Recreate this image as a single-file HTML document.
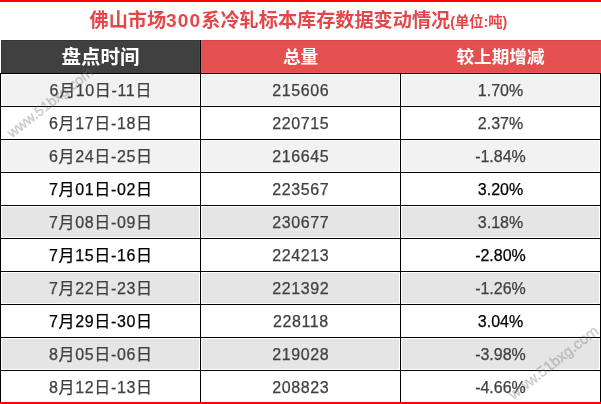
<!DOCTYPE html>
<html>
<head>
<meta charset="utf-8">
<style>
html,body{margin:0;padding:0;}
body{width:601px;height:404px;position:relative;overflow:hidden;background:#fff;
 font-family:"Liberation Sans","Noto Sans CJK SC",sans-serif;}
.a{position:absolute;}
.topline{left:0;top:0;width:601px;height:2px;background:#ff0000;}
.botline{left:0;top:402px;width:601px;height:2px;background:#ff0000;}
.title{left:89.5px;top:7px;height:28px;line-height:28px;
 font-size:19.15px;font-weight:bold;color:#e3474a;white-space:nowrap;}
.title .d{letter-spacing:1.1px;}
.title .u{font-size:14.3px;}
.h1{left:1px;top:40px;width:199px;height:33px;background:#404040;}
.h2{left:201px;top:40px;width:400px;height:33px;background:#e3504f;}
.hl{left:0;width:601px;height:1px;background:#000;}
.vl{width:1px;background:#000;}
.ht{color:#fff;font-weight:bold;text-align:center;line-height:33px;top:41px;height:33px;white-space:nowrap;}
.c{box-sizing:border-box;border:1px solid #fff;height:32px;}
.t{text-align:center;font-size:16px;line-height:32px;height:32px;color:#404040;white-space:nowrap;-webkit-text-stroke:0.25px currentColor;}
.k{color:#000;}
.c1{left:1px;width:199px;letter-spacing:0.65px;text-indent:0.65px;}
.c2{left:201px;width:199px;letter-spacing:0.6px;text-indent:0.6px;}
.c3{left:401px;width:199px;}
.wm{color:rgba(110,110,110,0.27);-webkit-text-stroke:0.5px rgba(110,110,110,0.27);font-size:14.3px;white-space:nowrap;transform-origin:0 0;}
</style>
</head>
<body>
<div class="a topline"></div>
<div class="a title">佛山市场<span class="d">300</span>系冷轧标本库存数据变动情况<span class="u">(单位:吨)</span></div>

<div class="a h1"></div>
<div class="a h2"></div>
<div class="a" style="left:1px;top:40px;width:199px;height:1px;background:#363636"></div>
<div class="a" style="left:1px;top:40px;width:1px;height:33px;background:#363636"></div>
<div class="a" style="left:199px;top:40px;width:1px;height:33px;background:#474747"></div>
<div class="a" style="left:201px;top:40px;width:400px;height:1px;background:#dc4747"></div>
<div class="a" style="left:201px;top:40px;width:1px;height:33px;background:#ee5858"></div>
<div class="a" style="left:201px;top:72px;width:400px;height:1px;background:#ee5656"></div>
<div class="a ht" style="left:1px;width:199px;font-size:19.5px;">盘点时间</div>
<div class="a ht" style="left:201px;width:199px;font-size:17.6px;">总量</div>
<div class="a ht" style="left:401px;width:199px;font-size:17.6px;">较上期增减</div>




<!-- row 1 -->
<div class="a c" style="left:1px;top:74px;width:199px;background:#f2f2f2"></div>
<div class="a c" style="left:201px;top:74px;width:199px;background:#f2f2f2"></div>
<div class="a c" style="left:401px;top:74px;width:199px;background:#f2f2f2"></div>
<!-- row 3 -->
<div class="a c" style="left:1px;top:140px;width:199px;background:#f2f2f2"></div>
<div class="a c" style="left:201px;top:140px;width:199px;background:#f2f2f2"></div>
<div class="a c" style="left:401px;top:140px;width:199px;background:#f2f2f2"></div>
<!-- row 5 -->
<div class="a c" style="left:1px;top:206px;width:199px;background:#e5e5e5"></div>
<div class="a c" style="left:201px;top:206px;width:199px;background:#e5e5e5"></div>
<div class="a c" style="left:401px;top:206px;width:199px;background:#e5e5e5"></div>
<!-- row 7 -->
<div class="a c" style="left:1px;top:272px;width:199px;background:#e5e5e5"></div>
<div class="a c" style="left:201px;top:272px;width:199px;background:#e5e5e5"></div>
<div class="a c" style="left:401px;top:272px;width:199px;background:#e5e5e5"></div>
<!-- row 9 -->
<div class="a c" style="left:1px;top:338px;width:199px;background:#e5e5e5"></div>
<div class="a c" style="left:201px;top:338px;width:199px;background:#e5e5e5"></div>
<div class="a c" style="left:401px;top:338px;width:199px;background:#e5e5e5"></div>

<!-- grid lines -->
<div class="a hl" style="top:73px"></div>
<div class="a hl" style="top:106px"></div>
<div class="a hl" style="top:139px"></div>
<div class="a hl" style="top:172px"></div>
<div class="a hl" style="top:205px"></div>
<div class="a hl" style="top:238px"></div>
<div class="a hl" style="top:271px"></div>
<div class="a hl" style="top:304px"></div>
<div class="a hl" style="top:337px"></div>
<div class="a hl" style="top:370px"></div>
<div class="a vl" style="left:0;top:73px;height:331px"></div>
<div class="a vl" style="left:200px;top:40px;height:364px"></div>
<div class="a vl" style="left:400px;top:73px;height:331px"></div>
<div class="a vl" style="left:600px;top:73px;height:331px"></div>

<!-- text -->
<div class="a t c1" style="top:75px">6月10日-11日</div>
<div class="a t c2" style="top:75px">215606</div>
<div class="a t c3" style="top:75px">1.70%</div>

<div class="a t c1" style="top:108px">6月17日-18日</div>
<div class="a t c2" style="top:108px">220715</div>
<div class="a t c3" style="top:108px">2.37%</div>

<div class="a t c1" style="top:141px">6月24日-25日</div>
<div class="a t c2" style="top:141px">216645</div>
<div class="a t c3" style="top:141px">-1.84%</div>

<div class="a t c1 k" style="top:174px">7月01日-02日</div>
<div class="a t c2" style="top:174px">223567</div>
<div class="a t c3 k" style="top:174px">3.20%</div>

<div class="a t c1" style="top:207px">7月08日-09日</div>
<div class="a t c2" style="top:207px">230677</div>
<div class="a t c3" style="top:207px">3.18%</div>

<div class="a t c1 k" style="top:240px">7月15日-16日</div>
<div class="a t c2" style="top:240px">224213</div>
<div class="a t c3 k" style="top:240px">-2.80%</div>

<div class="a t c1" style="top:273px">7月22日-23日</div>
<div class="a t c2" style="top:273px">221392</div>
<div class="a t c3" style="top:273px">-1.26%</div>

<div class="a t c1 k" style="top:306px">7月29日-30日</div>
<div class="a t c2" style="top:306px">228118</div>
<div class="a t c3 k" style="top:306px">3.04%</div>

<div class="a t c1" style="top:339px">8月05日-06日</div>
<div class="a t c2" style="top:339px">219028</div>
<div class="a t c3" style="top:339px">-3.98%</div>

<div class="a t c1" style="top:372px">8月12日-13日</div>
<div class="a t c2" style="top:372px">208823</div>
<div class="a t c3" style="top:372px">-4.66%</div>

<!-- watermarks -->
<div class="a wm" style="left:4px;top:128px;transform:rotate(-38deg)">www.51bxg.com</div>
<div class="a wm" style="left:505px;top:389px;font-size:15px;transform:rotate(-38deg)">www.51bxg.com</div>

<div class="a botline"></div>
</body>
</html>
